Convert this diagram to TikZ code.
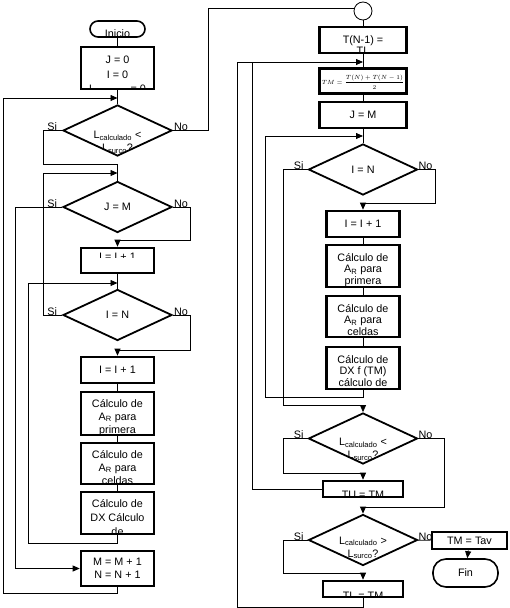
\documentclass[tikz,border=0pt]{standalone}
\usepackage{fontspec}
\setmainfont{Liberation Sans}
\usetikzlibrary{shapes.geometric,arrows.meta}
\newcommand{\fsz}{\fontsize{10.8}{13}\selectfont}
\begin{document}
\begin{tikzpicture}[x=1pt, y=-1pt, font=\fsz,
  box/.style={draw, line width=2.6pt, minimum width=73pt, inner sep=0pt},
  decision/.style={shape=diamond, draw, line width=1.8pt, minimum width=109pt, minimum height=51pt, inner sep=0pt},
  term/.style={draw, rounded corners=8pt, line width=1.6pt, inner sep=0pt},
  conn/.style={shape=circle, draw, line width=0.8pt, minimum size=18pt, inner sep=0pt},
  intxt/.style={shape=rectangle, draw=none, fill=none, minimum width=0pt, minimum height=0pt, anchor=north, inner sep=0pt, align=center, font=\fsz},
  cliptext/.style 2 args={path picture={\node[intxt] at ([yshift=-#1pt]path picture bounding box.north) {#2};}},
  wire/.style={draw, line width=0.8pt},
  flow/.style={wire, -{Triangle[length=7pt,width=6pt]}},
  lbl/.style={inner sep=0pt, font=\fsz}]
\useasboundingbox[fill=white] (0,0) rectangle (509,608);
\node[term, minimum width=55pt, minimum height=16pt, cliptext={7.5}{Inicio}] (ini) at (117.5,29) {};
\node[box, minimum height=42pt, cliptext={7.5}{J = 0\\[1.8pt]I = 0\\[1.8pt]L\textsubscript{calculado} = 0}] (init) at (117.5,68) {};
\node[decision, cliptext={25}{L\textsubscript{calculado} <\\L\textsubscript{surco}?}] (d1) at (117.5,130.5) {};
\node[decision] (d2) at (117.5,207) {J = M};
\node[box, minimum height=25pt, path picture={\clip (path picture bounding box.north west) rectangle ([yshift=-9pt]path picture bounding box.north east); \node[intxt] at ([yshift=-4pt]path picture bounding box.north) {I = I + 1};}] (inc1) at (117.5,260.5) {};
\node[decision] (d3) at (117.5,315) {I = N};
\node[box, minimum height=26pt] (inc2) at (117.5,370) {I = I + 1};
\node[box, minimum height=43pt, cliptext={6}{Cálculo de\\A\textsubscript{R} para\\primera}] (c1) at (117.5,413.5) {};
\node[box, minimum height=41pt, cliptext={6}{Cálculo de\\A\textsubscript{R} para\\celdas}] (c2) at (117.5,463.5) {};
\node[box, minimum height=42pt, cliptext={6}{Cálculo de\\[1pt]DX Cálculo\\[1pt]de}] (c3) at (117.5,513) {};
\node[box, minimum height=35pt, align=center] (mn) at (117.5,568.5) {M = M + 1\\N = N + 1};
\node[lbl, anchor=base east] (si1) at ([xshift=-5pt]d1.west) {Si};
\node[lbl, anchor=base west] (no1) at ([xshift=1pt]d1.east) {No};
\node[lbl, anchor=base east] (si2) at ([xshift=-5pt]d2.west) {Si};
\node[lbl, anchor=base west] (no2) at ([xshift=1pt]d2.east) {No};
\node[lbl, anchor=base east] (si3) at ([xshift=-5pt]d3.west) {Si};
\node[lbl, anchor=base west] (no3) at ([xshift=1pt]d3.east) {No};
\node[conn] (circ) at (363,11) {};
\node[box, minimum width=87pt, minimum height=26pt, cliptext={7}{T(N-1) =\\[-2pt]TL}] (tn) at (363,40) {};
\node[box, minimum width=87pt, minimum height=25pt, cliptext={5}{\fontsize{6}{7}\selectfont$\displaystyle TM=\frac{T(N)+T(N-1)}{2}$}] (tm) at (363,81) {};
\node[box, minimum width=87pt, minimum height=26pt] (jm) at (363,115) {J = M};
\node[decision] (d4) at (363,169.5) {I = N};
\node[box, minimum height=26pt] (inc3) at (363,224) {I = I + 1};
\node[box, minimum height=42pt, cliptext={7}{Cálculo de\\[-1.5pt]A\textsubscript{R} para\\[-1.5pt]primera}] (c4) at (363,266) {};
\node[box, minimum height=41pt, cliptext={7}{Cálculo de\\[-1.5pt]A\textsubscript{R} para\\[-1.5pt]celdas}] (c5) at (363,316.5) {};
\node[box, minimum height=42pt, cliptext={7}{Cálculo de\\[-1.5pt]DX f (TM)\\[-1.5pt]cálculo de}] (c6) at (363,368) {};
\node[decision, cliptext={24}{L\textsubscript{calculado} <\\L\textsubscript{surco}?}] (d5) at (363,438.5) {};
\node[box, minimum width=80pt, minimum height=16pt, cliptext={8.5}{TU = TM}] (tu) at (363,489) {};
\node[decision, cliptext={21}{L\textsubscript{calculado} >\\L\textsubscript{surco}?}] (d6) at (363,540) {};
\node[box, minimum width=80pt, minimum height=16pt, cliptext={9.5}{TL = TM}] (tl) at (363,589) {};
\node[lbl, anchor=base east] (si4) at ([xshift=-4pt]d4.west) {Si};
\node[lbl, anchor=base west] (no4) at (d4.east) {No};
\node[lbl, anchor=base east] (si5) at ([xshift=-4pt]d5.west) {Si};
\node[lbl, anchor=base west] (no5) at (d5.east) {No};
\node[lbl, anchor=base east] (si6) at ([xshift=-4pt]d6.west) {Si};
\node[lbl, anchor=base west] (no6) at (d6.east) {No};
\node[box, fill=white, minimum width=75pt, minimum height=17pt] (tav) at (469.5,540.5) {TM = Tav};
\node[term, rounded corners=13pt, minimum width=65pt, minimum height=28pt] (fin) at (465.5,573) {Fin};
\coordinate (j1) at (117.5,98);
\coordinate (j2) at (117.5,173);
\coordinate (j3) at (117.5,283);
\coordinate (j4) at (363,62);
\coordinate (j5) at (363,136);
\path [wire] (ini) edge (init);
\path [wire] (init) edge (d1);
\path [wire] (inc1) edge (d3);
\path [wire] (inc2) edge (c1);
\path [wire] (c1) edge (c2);
\path [wire] (c2) edge (c3);
\path [wire] (circ) edge (tn);
\path [wire] (tn) edge (tm);
\path [wire] (tm) edge (jm);
\path [wire] (jm) edge (d4);
\path [wire] (inc3) edge (c4);
\path [wire] (c4) edge (c5);
\path [wire] (c5) edge (c6);
\path [wire] (d6) edge (tav);
\path [flow] (tav) edge (fin);
\draw[wire] (d1.east) -- (208,130.5) |- (circ.165);
\draw[wire] (d1.west) -| (43,164) -| (d2.north);
\draw[flow] (d3.west) -| (43,173) -- (j2);
\draw[flow] (d2.west) -| (15,568.5) -- (mn.west);
\draw[flow] (d2.east) -| (190,240) -| (inc1.north);
\draw[flow] (d3.east) -| (190,350) -| (inc2.north);
\draw[flow] (c3.south) |- (28,543) |- (j3);
\draw[flow] (mn.south) |- (3,593) |- (j1);
\draw[flow] (d4.east) -| (435,203) -| (inc3.north);
\draw[flow] (c6.south) |- (265,397) |- (j5);
\draw[flow] (d4.west) -| (283,405) -| (d5.north);
\draw[flow] (d5.west) -| (283,473) -| (tu.north);
\draw[wire] (tu.west) -| (252,62);
\draw[flow] (d5.east) -| (444,507) -| (d6.north);
\draw[flow] (d6.west) -| (283,573) -| (tl.north);
\draw[flow] (tl.south) |- (237,607) |- (j4);
\end{tikzpicture}
\end{document}
